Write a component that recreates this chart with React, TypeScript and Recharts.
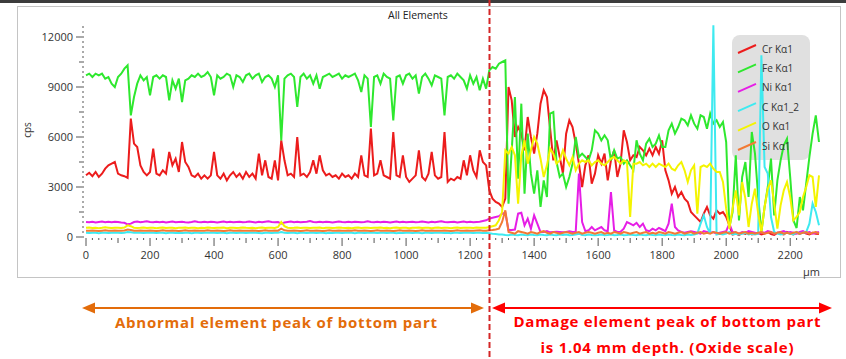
import React from "react";
import { LineChart, Line, XAxis, YAxis } from "recharts";

// sample spacing along the depth axis (µm)
const STEP_UM = 10;
const N_POINTS = 230;

const crCps = [
  3700, 3850, 3650, 3900, 3600, 3800, 4100, 4300, 4400, 4500,
  3800, 3700, 3650, 3550, 7100, 5600, 5400, 4300, 3900, 3700,
  3900, 5300, 3800, 3700, 4000, 3800, 5100, 4300, 4700, 3900,
  5700, 4500, 4200, 3700, 3600, 3800, 3500, 3700, 3500, 3700,
  5100, 3700, 3500, 3800, 3400, 3700, 3900, 3600, 3800, 3500,
  3900, 3600, 3800, 3500, 5000, 3700, 4600, 3600, 3500, 4600,
  3400, 5800, 4600, 3700, 3800, 3600, 6000, 3700, 3800, 3600,
  3900, 4600, 3800, 4900, 4000, 3700, 3800, 3600, 3700, 3500,
  3800, 3600, 3700, 3500, 3800, 3600, 4900, 3700, 3600, 6500,
  3700, 3800, 4600, 3700, 3600, 3500, 6300, 3700, 3600, 4900,
  3600, 3300, 3500, 3700, 5200, 3600, 3400, 3800, 5100, 3700,
  3500, 3600, 6300, 3300, 3500, 3400, 3600, 3500, 4600, 3700,
  4900, 4000, 3600, 5200, 4500, 4300, 2800, 2300, 2100, 2000,
  1800, 2300, 9000, 8200, 6000, 6600, 6200, 5200, 7200, 6000,
  5000, 6200, 8000, 8800, 8400, 6500, 4600, 5800, 4800, 3800,
  6200, 7000, 6600, 5600, 4400, 3000, 4300, 4900, 3200, 3800,
  4900, 4400, 5000, 3400, 4600, 5200, 3600, 4400, 6400, 5700,
  4600, 4900, 4800, 5400, 5200, 4900, 5300, 4900, 5400, 5000,
  5800, 4000, 3400, 2600, 3000, 2400, 2700, 2300, 2100, 1500,
  1300, 1100, 900, 1400, 1800, 1300, 1100, 1600, 1400, 1500,
  1200, 700, 150, 200, 120, 250, 180, 300, 150, 200,
  250, 150, 200, 300, 180, 120, 250, 200, 150, 300,
  200, 150, 250, 180, 300, 200, 150, 250, 200, 180,
];

const feCps = [
  9700, 9800, 9600, 9800, 9700, 9800, 9500, 9600, 9200, 9000,
  9600, 9800, 10100, 10300, 7300, 8400, 9200, 9700, 9400, 9600,
  8500, 9600, 9700, 9500, 9700, 9600, 8200, 9400, 8900, 9500,
  8100, 9400, 9500, 9700, 9600, 9800, 9600, 9700, 9900, 9600,
  8500, 9700, 9500, 9600, 9800, 9700, 9000, 9700, 9600, 9300,
  9700, 9800, 9500, 9700, 9800, 9300, 9600, 9700, 9500, 9000,
  9700, 5800, 9500, 9700, 9800, 9600, 7800, 9600, 9800, 9500,
  9700, 9200, 9700, 8900, 9600, 9700, 9800, 9600, 9700, 9800,
  9500, 9700, 9600, 9700, 9800, 9400, 8700, 9700, 9500, 6600,
  9600, 9700, 9200, 9800, 9600, 9500, 7000, 9600, 9700, 9200,
  9700, 9800, 9500, 9700, 8600, 9600, 9800, 9500, 9100, 9700,
  9600, 9500, 7300, 9600, 9700, 9500, 9800, 9600, 9400, 8900,
  9700, 9200, 9600, 8800, 9500, 8900, 10000, 10200, 10100, 10400,
  10500, 10600, 2000, 5200, 8400, 3500, 8000, 2600, 6200, 3800,
  2600, 4000, 1800, 3400, 2400, 7400, 7500, 4500, 3600, 3800,
  3000, 3600, 4400, 6000, 4800, 5000, 4800, 4600, 5200, 6400,
  6200, 5800, 6100, 5800, 4600, 5200, 4700, 4800, 4400, 4600,
  4300, 4000, 5800, 5000, 4600, 5600, 5900, 5400, 5600, 6100,
  5400, 5400, 6400, 6800, 6200, 6600, 7100, 7000, 6700, 7300,
  6800, 6500, 7300, 7200, 6500, 7400, 6800, 7000, 6600, 6900,
  5700, 600, 1500, 4900, 1000, 3600, 4500, 2400, 6300, 5000,
  2400, 300, 1800, 3000, 4700, 1300, 3400, 4600, 5500, 5900,
  3600, 1000, 540, 2400, 1600, 3200, 4800, 6200, 7300, 5700,
];

const niCps = [
  900, 880, 920, 870, 900, 930, 880, 910, 890, 920,
  900, 870, 850, 760, 800, 900, 930, 880, 910, 950,
  900, 880, 920, 890, 910, 870, 900, 930, 880, 900,
  920, 890, 870, 900, 940, 900, 880, 910, 890, 920,
  900, 870, 900, 930, 890, 910, 880, 900, 920, 880,
  900, 930, 900, 870, 910, 890, 920, 950, 900, 880,
  900, 800, 870, 900, 930, 890, 910, 880, 900, 920,
  960, 900, 880, 910, 890, 920, 900, 870, 900, 930,
  900, 880, 910, 890, 920, 900, 880, 900, 940, 900,
  880, 910, 890, 920, 900, 870, 900, 930, 890, 910,
  880, 900, 920, 880, 900, 930, 900, 870, 910, 890,
  920, 950, 900, 880, 900, 920, 870, 900, 930, 890,
  910, 880, 900, 920, 960, 1000, 1100, 1150, 1200, 1250,
  1400, 1450, 420, 420, 450, 1400, 1450, 700, 1100, 500,
  1300, 800, 300, 300, 350, 280, 300, 320, 300, 280,
  300, 350, 300, 320, 3800, 900, 350, 400, 600, 400,
  500, 600, 400, 350, 2700, 400, 300, 320, 500, 900,
  800, 700, 850, 600, 800, 400, 350, 500, 400, 550,
  450, 350, 800, 2000, 600, 400, 300, 250, 300, 350,
  300, 250, 200, 350, 300, 250, 300, 200, 250, 300,
  350, 800, 300, 250, 200, 300, 250, 350, 300, 250,
  200, 300, 250, 350, 300, 200, 250, 300, 350, 250,
  300, 250, 200, 300, 350, 250, 300, 200, 250, 300,
];

const cCps = [
  250, 240, 260, 250, 230, 250, 260, 240, 250, 260,
  250, 240, 260, 300, 280, 250, 260, 250, 240, 250,
  260, 250, 240, 250, 260, 230, 250, 260, 240, 250,
  240, 260, 250, 230, 250, 260, 240, 250, 260, 250,
  250, 240, 260, 250, 230, 250, 260, 240, 250, 260,
  240, 250, 260, 250, 240, 230, 250, 260, 240, 250,
  260, 300, 250, 240, 260, 250, 230, 250, 260, 240,
  250, 260, 240, 250, 260, 230, 250, 240, 260, 250,
  240, 250, 260, 250, 230, 250, 260, 240, 250, 260,
  250, 240, 260, 250, 240, 250, 260, 230, 250, 240,
  260, 250, 240, 250, 260, 230, 250, 260, 240, 250,
  250, 260, 240, 250, 230, 250, 260, 240, 250, 260,
  250, 240, 260, 250, 240, 250, 230, 200, 180, 150,
  150, 120, 100, 150, 120, 100, 150, 120, 100, 150,
  120, 100, 150, 120, 100, 150, 120, 100, 150, 120,
  150, 100, 120, 150, 200, 120, 100, 150, 120, 100,
  120, 150, 100, 120, 150, 100, 120, 150, 100, 120,
  150, 120, 100, 150, 120, 100, 150, 120, 100, 150,
  120, 100, 150, 120, 100, 150, 120, 100, 150, 120,
  150, 200, 800, 1300, 600, 200, 12700, 150, 200, 150,
  200, 300, 150, 200, 150, 200, 250, 150, 200, 150,
  200, 10900, 4200, 3800, 1200, 300, 200, 150, 200, 250,
  200, 150, 300, 200, 250, 300, 800, 2000, 1500, 700,
];

const oCps = [
  550, 570, 540, 560, 530, 550, 580, 560, 540, 550,
  560, 540, 570, 700, 650, 560, 540, 550, 570, 540,
  550, 560, 530, 550, 570, 540, 560, 550, 530, 560,
  550, 570, 540, 560, 550, 530, 560, 540, 570, 550,
  540, 560, 550, 570, 530, 550, 560, 540, 550, 570,
  550, 540, 560, 530, 550, 570, 540, 560, 550, 540,
  600, 900, 650, 560, 540, 550, 570, 540, 560, 550,
  540, 560, 550, 570, 530, 550, 560, 540, 550, 570,
  550, 540, 560, 530, 550, 570, 540, 560, 550, 540,
  560, 550, 570, 540, 560, 530, 550, 570, 540, 560,
  550, 530, 560, 550, 570, 540, 560, 550, 530, 560,
  570, 540, 550, 560, 530, 550, 570, 540, 560, 550,
  560, 540, 570, 550, 560, 550, 600, 650, 700, 1000,
  1500, 5200, 5000, 5400, 4900, 2000, 4900, 5800, 4400, 5200,
  6000, 5600, 4700, 3600, 4300, 5300, 5000, 4400, 4600, 5200,
  4700, 4300, 4800, 4000, 4400, 4600, 4500, 4600, 4300, 4500,
  4600, 4400, 4300, 4500, 4700, 4800, 4600, 4400, 4600, 4500,
  1200, 4400, 4400, 4500, 4300, 4400, 4200, 4400, 4200, 4400,
  4300, 4200, 4400, 4100, 4000, 4300, 4500, 4000, 3300, 4000,
  4300, 1400, 4200, 4300, 4200, 4400, 4100, 3900, 3900, 3300,
  1700, 500, 1700, 2800, 1300, 3300, 2300, 600, 2000, 2900,
  1400, 300, 1800, 2900, 3400, 2000, 500, 1900, 2800, 3300,
  2400, 1000, 1200, 1500, 2400, 3000, 3700, 3600, 1800, 3700,
];

const siCps = [
  380, 370, 390, 380, 360, 380, 400, 380, 370, 390,
  380, 370, 390, 450, 420, 380, 370, 390, 380, 370,
  390, 380, 360, 380, 400, 380, 370, 390, 380, 360,
  380, 400, 380, 370, 390, 380, 370, 380, 400, 380,
  370, 390, 380, 360, 380, 400, 380, 370, 390, 380,
  380, 370, 390, 380, 360, 380, 400, 380, 370, 390,
  380, 500, 400, 380, 370, 390, 380, 360, 380, 400,
  380, 370, 390, 380, 360, 380, 400, 380, 370, 390,
  380, 370, 390, 380, 400, 380, 370, 390, 380, 360,
  380, 400, 380, 370, 390, 380, 360, 380, 400, 380,
  370, 390, 380, 360, 380, 400, 380, 370, 390, 380,
  380, 370, 390, 380, 360, 380, 400, 380, 370, 390,
  380, 370, 390, 400, 380, 370, 400, 420, 450, 500,
  900, 1600, 300, 250, 200, 350, 300, 250, 200, 300,
  250, 200, 300, 350, 250, 200, 300, 250, 200, 250,
  300, 250, 200, 250, 300, 200, 250, 300, 250, 200,
  250, 300, 200, 250, 200, 300, 250, 200, 300, 250,
  200, 250, 300, 200, 250, 300, 200, 250, 200, 300,
  250, 200, 300, 250, 200, 250, 300, 200, 250, 300,
  200, 250, 300, 200, 250, 200, 300, 250, 200, 250,
  300, 200, 250, 300, 200, 250, 300, 200, 250, 200,
  250, 300, 200, 250, 300, 200, 250, 300, 200, 250,
  200, 250, 300, 200, 250, 300, 200, 250, 300, 200,
];

const xLabels = [0, 200, 400, 600, 800, 1000, 1200, 1400, 1600, 1800, 2000, 2200];
const yLabels = [0, 3000, 6000, 9000, 12000];

const series = [
  { key: "cr", name: "Cr Kα1", color: "#ec1c1c", values: crCps },
  { key: "fe", name: "Fe Kα1", color: "#2ee82e", values: feCps },
  { key: "ni", name: "Ni Kα1", color: "#e61ee6", values: niCps },
  { key: "c", name: "C Kα1_2", color: "#3eeaf0", values: cCps },
  { key: "o", name: "O Kα1", color: "#f4f400", values: oCps },
  { key: "si", name: "Si Kα1", color: "#f27a34", values: siCps },
];

const data = Array.from({ length: N_POINTS }, (_, i) => {
  const row: any = { x: i * STEP_UM };
  series.forEach((s) => (row[s.key] = s.values[i]));
  return row;
});

const xTicks = Array.from({ length: 115 }, (_, i) => i * 20);
const yTicks = Array.from({ length: 43 }, (_, i) => i * 300);

const FONT = "'Open Sans', 'DejaVu Sans', sans-serif";
const AXIS_INK = "#555";

const XTick = ({ x, y, payload }: any) => {
  const v = payload.value;
  const major = xLabels.includes(v);
  const len = major ? 8 : v % 100 === 0 ? 5 : 2;
  return (
    <g>
      <line x1={x} x2={x} y1={y + 1} y2={y + 1 + len} stroke={AXIS_INK} strokeWidth={1} />
      {major && (
        <text x={x} y={y + 22} textAnchor="middle" fontSize={11} fontFamily={FONT} fill="#333">
          {v}
        </text>
      )}
    </g>
  );
};

const YTick = ({ x, y, payload }: any) => {
  const v = payload.value;
  const major = yLabels.includes(v);
  const len = major ? 8 : v % 1500 === 0 ? 5 : 2;
  const ax = x - 2;
  return (
    <g>
      <line x1={ax - len} x2={ax} y1={y} y2={y} stroke={AXIS_INK} strokeWidth={1} />
      {major && (
        <text x={ax - 11} y={y + 4} textAnchor="end" fontSize={11} fontFamily={FONT} fill="#333">
          {v}
        </text>
      )}
    </g>
  );
};

const Arrow = ({ x1, x2, y, color }: any) => (
  <g>
    <line x1={x1 + 10} x2={x2 - 10} y1={y} y2={y} stroke={color} strokeWidth={2} />
    <polygon points={`${x1},${y} ${x1 + 13},${y - 5.5} ${x1 + 13},${y + 5.5}`} fill={color} />
    <polygon points={`${x2},${y} ${x2 - 13},${y - 5.5} ${x2 - 13},${y + 5.5}`} fill={color} />
  </g>
);

export default function App() {
  const legendTop = 49;
  const legendGap = 19.4;
  return (
    <div style={{ position: "absolute", left: 0, top: 0, width: 846, height: 359, background: "#fff", overflow: "hidden" }}>
      {/* window frame around the plot */}
      <div style={{ position: "absolute", left: 0, top: 0, width: 846, height: 3, background: "#3c3c3c" }} />
      <div style={{ position: "absolute", left: 17, top: 6, width: 824, height: 272, border: "1px solid #c4c4c4", boxSizing: "border-box" }} />
      {/* legend box sits under the traces */}
      <div style={{ position: "absolute", left: 732, top: 35, width: 78, height: 125, borderRadius: 8, background: "#e0e0e0" }} />

      <div style={{ position: "absolute", left: 0, top: 0 }}>
        <LineChart width={846} height={359} data={data} margin={{ top: 25, right: 27, bottom: 92, left: 20 }}>
          <XAxis
            dataKey="x"
            type="number"
            domain={[0, 2290]}
            ticks={xTicks}
            interval={0}
            tick={<XTick />}
            tickLine={false}
            axisLine={false}
            tickSize={0}
            tickMargin={0}
            height={30}
          />
          <YAxis
            type="number"
            domain={[0, 12720]}
            ticks={yTicks}
            interval={0}
            tick={<YTick />}
            tickLine={false}
            axisLine={false}
            tickSize={0}
            tickMargin={0}
            width={66}
            allowDataOverflow
          />
          {series.map((s) => (
            <Line
              key={s.key}
              dataKey={s.key}
              name={s.name}
              type="linear"
              stroke={s.color}
              strokeWidth={2}
              dot={false}
              activeDot={false}
              isAnimationActive={false}
            />
          ))}
        </LineChart>
      </div>

      <svg width={846} height={359} style={{ position: "absolute", left: 0, top: 0, pointerEvents: "none" }}>
        <text x={388} y={19} fontSize={10.5} fontFamily={FONT} fill="#222">All Elements</text>
        <text x={0} y={0} fontSize={10} fontFamily={FONT} fill="#333" textAnchor="middle" transform="translate(31,130) rotate(-90)">cps</text>
        <text x={820} y={276} fontSize={11} fontFamily={FONT} fill="#333" textAnchor="end">µm</text>

        {series.map((s, i) => {
          const cy = legendTop + i * legendGap;
          return (
            <g key={s.key}>
              <line x1={738} y1={cy + 4} x2={756} y2={cy - 4} stroke={s.color} strokeWidth={2} />
              <text x={762} y={cy + 3.5} fontSize={10} fontFamily={FONT} fill="#333">{s.name}</text>
            </g>
          );
        })}

        <line x1={489.5} x2={489.5} y1={0} y2={359} stroke="#d42626" strokeWidth={2} strokeDasharray="6 3" />

        <Arrow x1={82} x2={484} y={308} color="#e36c0a" />
        <Arrow x1={492} x2={832} y={308} color="#ff0000" />

        <text x={276} y={328} textAnchor="middle" fontSize={15} fontWeight={700} fontFamily={FONT} fill="#e36c0a" textLength={322}>
          Abnormal element peak of bottom part
        </text>
        <text x={667} y={327} textAnchor="middle" fontSize={15} fontWeight={700} fontFamily={FONT} fill="#ff0000" textLength={307}>
          Damage element peak of bottom part
        </text>
        <text x={667} y={353} textAnchor="middle" fontSize={15} fontWeight={700} fontFamily={FONT} fill="#ff0000" textLength={253}>
          is 1.04 mm depth. (Oxide scale)
        </text>
      </svg>
    </div>
  );
}
